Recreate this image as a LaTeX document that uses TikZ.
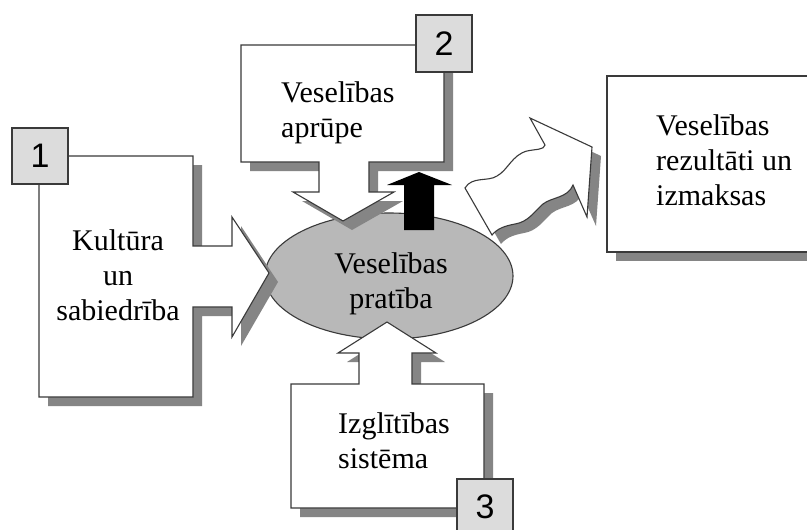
\documentclass[tikz,border=0pt]{standalone}
\usepackage{fontspec}
\setmainfont{Liberation Serif}
\newfontfamily\digitfont{Liberation Sans}
\definecolor{shadowgray}{HTML}{858585}
\definecolor{edgegray}{HTML}{3A3A3A}
\definecolor{ellgray}{HTML}{B8B8B8}
\definecolor{tagfill}{HTML}{DCDCDC}
\tikzset{
  shadowshape/.style={fill=shadowgray, draw=none},
  whiteshape/.style={fill=white, draw=edgegray, line width=1.1pt, line join=miter},
  tagbox/.style={fill=tagfill, draw=edgegray, line width=1.1pt},
  tagtext/.style={font=\digitfont\fontsize{34}{34}\selectfont, text=black},
  bodytext/.style={font=\fontsize{30}{35}\selectfont, text=black, inner sep=0pt},
}
\begin{document}
\begin{tikzpicture}[x=1pt,y=-1pt]
\useasboundingbox (0,0) rectangle (807,530);
\clip (0,0) rectangle (807,530);
\fill[white] (0,0) rectangle (807,530);

% ellipse (drawn first; arrows overlap it)
\draw[fill=ellgray, draw=edgegray, line width=1.1pt] (389,276) ellipse [x radius=124, y radius=63];

% shadows
\begin{scope}[shift={(9,9)}]
  \fill[shadowshape] (39,156) -- (193,156) -- (193,246) -- (232,246) -- (232,217) -- (269,273) -- (232,337) -- (232,307) -- (193,307) -- (193,397) -- (39,397) -- cycle;
  \fill[shadowshape] (241,45) -- (444,45) -- (444,162) -- (369,162) -- (369,192) -- (394,192) -- (343,221) -- (293,192) -- (319,192) -- (319,162) -- (241,162) -- cycle;
  \fill[shadowshape] (291,384) -- (359,384) -- (359,353) -- (338,353) -- (387,322) -- (436,353) -- (412,353) -- (412,384) -- (484,384) -- (484,508) -- (291,508) -- cycle;
  \fill[shadowshape] (607,76) rectangle (830,252);
  \fill[shadowshape] (492,235) -- (465,188)
     .. controls (472,176) and (488,182) .. (497,176)
     .. controls (508,170) and (512,155) .. (527,151)
     .. controls (536,149) and (544,150) .. (545,145)
     -- (530,118) -- (592,147) -- (587,217) -- (573,185)
     .. controls (568,198) and (552,197) .. (543,204)
     .. controls (534,212) and (528,222) .. (515,224)
     .. controls (505,226) and (498,228) .. (492,235) -- cycle;
\end{scope}

% white shapes
\draw[whiteshape] (39,156) -- (193,156) -- (193,246) -- (232,246) -- (232,217) -- (269,273) -- (232,337) -- (232,307) -- (193,307) -- (193,397) -- (39,397) -- cycle;
\draw[whiteshape] (241,45) -- (444,45) -- (444,162) -- (369,162) -- (369,192) -- (394,192) -- (343,221) -- (293,192) -- (319,192) -- (319,162) -- (241,162) -- cycle;
\draw[whiteshape] (291,384) -- (359,384) -- (359,353) -- (338,353) -- (387,322) -- (436,353) -- (412,353) -- (412,384) -- (484,384) -- (484,508) -- (291,508) -- cycle;
\draw[whiteshape] (607,76) rectangle (830,252);
\draw[whiteshape] (492,235) -- (465,188)
     .. controls (472,176) and (488,182) .. (497,176)
     .. controls (508,170) and (512,155) .. (527,151)
     .. controls (536,149) and (544,150) .. (545,145)
     -- (530,118) -- (592,147) -- (587,217) -- (573,185)
     .. controls (568,198) and (552,197) .. (543,204)
     .. controls (534,212) and (528,222) .. (515,224)
     .. controls (505,226) and (498,228) .. (492,235) -- cycle;

% black arrow up from the ellipse
\fill[black] (404,230) -- (404,185) -- (387,185) -- (419,172) -- (452,185) -- (434,185) -- (434,230) -- cycle;

% number tags
\node[tagbox, minimum width=56pt, minimum height=56pt, inner sep=0pt] (t1) at (40,156) {};
\node[tagtext] at (t1.center) {1};
\node[tagbox, minimum width=56pt, minimum height=57pt, inner sep=0pt] (t2) at (444,43.5) {};
\node[tagtext] at (t2.center) {2};
\draw[tagbox] (457,479) rectangle (513,545);
\node[tagtext] (t3) at (485,507) {3};

% texts (base anchor = baseline of the last line)
\node[bodytext, align=center, anchor=base] (kult) at (118,320) {Kultūra\\un\\sabiedrība};
\node[bodytext, align=left, anchor=base west] (apr) at (281,137) {Veselības\\aprūpe};
\node[bodytext, align=center, anchor=base] (prat) at (391,308) {Veselības\\pratība};
\node[bodytext, align=left, anchor=base west] (izgl) at (338,468) {Izglītības\\sistēma};
\node[bodytext, align=left, anchor=base west] (rez) at (656,205) {Veselības\\rezultāti un\\izmaksas};
\end{tikzpicture}
\end{document}
